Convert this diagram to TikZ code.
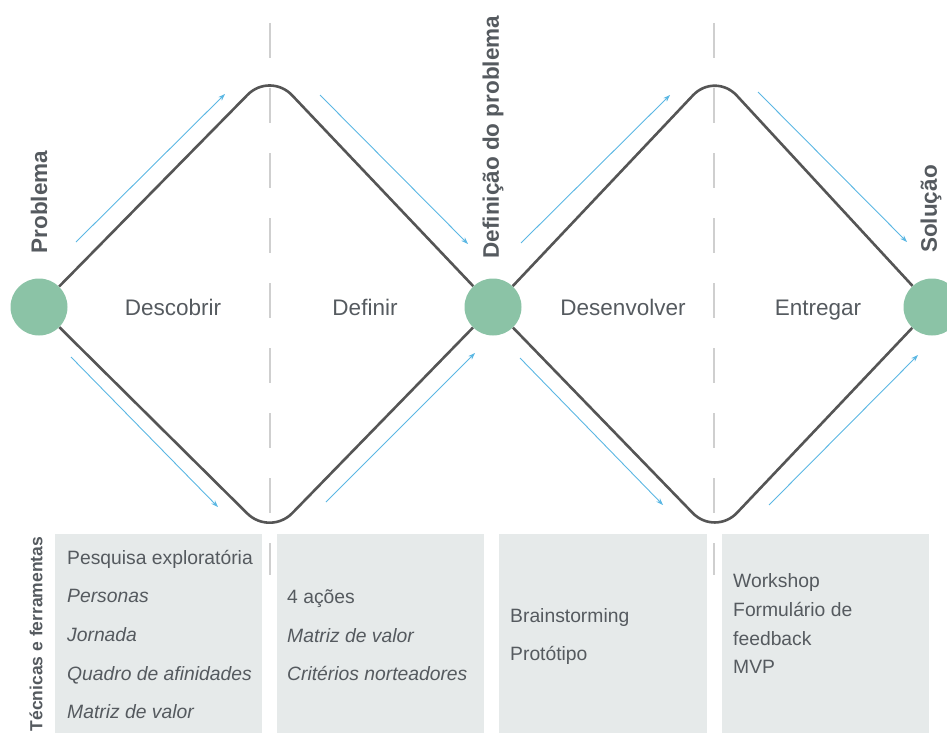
\documentclass[tikz,border=0pt]{standalone}
\usepackage{fontspec}
\setmainfont{Liberation Sans}
\usetikzlibrary{arrows.meta}

\definecolor{phasegreen}{HTML}{8BC3A6}
\definecolor{diamondgray}{HTML}{555555}
\definecolor{dashgray}{HTML}{CFCFCF}
\definecolor{flowblue}{HTML}{5BB7E3}
\definecolor{boxgray}{HTML}{E6EAEA}
\definecolor{textgray}{HTML}{555A5F}

\tikzset{
  phase/.style={circle, fill=phasegreen, minimum size=57pt, inner sep=0pt},
  diamondline/.style={line width=2.6pt, draw=diamondgray, rounded corners=32pt},
  divider/.style={line width=2pt, draw=dashgray, dash pattern=on 35pt off 30pt},
  flow/.style={line width=0.9pt, draw=flowblue, -{Stealth[length=7pt,width=5pt]}},
  stage/.style={text=textgray, anchor=base, font=\fontsize{22.5}{27}\selectfont},
  milestone/.style={text=textgray, rotate=90, inner sep=0pt, font=\bfseries\fontsize{22.5}{27}\selectfont},
  tool/.style={text=textgray, anchor=base west, inner sep=0pt, font=\fontsize{19.3}{23}\selectfont},
  itool/.style={tool, font=\itshape\fontsize{19.3}{23}\selectfont}
}

\begin{document}
\begin{tikzpicture}[x=1pt,y=-1pt]
\useasboundingbox (0,0) rectangle (947,733);

% Dashed dividers
\draw[divider] (270,23) -- (270,575);
\draw[divider] (714,23) -- (714,575);

% Corners of the two diamonds
\coordinate (top1) at (270,72);
\coordinate (bot1) at (270,536);
\coordinate (top2) at (715,72);
\coordinate (bot2) at (715,536);

% Milestones
\node[phase] (problema) at (39,307) {};
\node[phase] (definicao) at (493,307) {};
\node[phase] (solucao) at (932,307) {};

% Diamonds
\draw[diamondline] (problema) -- (top1) -- (definicao);
\draw[diamondline] (problema) -- (bot1) -- (definicao);
\draw[diamondline] (definicao) -- (top2) -- (solucao);
\draw[diamondline] (definicao) -- (bot2) -- (solucao);

% Flow arrows, first diamond
\coordinate (f1a) at (76,242);  \coordinate (f1b) at (225,94);
\coordinate (f2a) at (320,95);  \coordinate (f2b) at (468,244);
\coordinate (f3a) at (71,357);  \coordinate (f3b) at (218,507);
\coordinate (f4a) at (326,502); \coordinate (f4b) at (475,353);
\draw[flow] (f1a) -- (f1b);
\draw[flow] (f2a) -- (f2b);
\draw[flow] (f3a) -- (f3b);
\draw[flow] (f4a) -- (f4b);

% Flow arrows, second diamond
\coordinate (g1a) at (521,243); \coordinate (g1b) at (670,95);
\coordinate (g2a) at (758,92);  \coordinate (g2b) at (907,242);
\coordinate (g3a) at (520,358); \coordinate (g3b) at (663,505);
\coordinate (g4a) at (769,505); \coordinate (g4b) at (918,355);
\draw[flow] (g1a) -- (g1b);
\draw[flow] (g2a) -- (g2b);
\draw[flow] (g3a) -- (g3b);
\draw[flow] (g4a) -- (g4b);

% Stage names
\node[stage] (descobrir) at (173,315) {Descobrir};
\node[stage] (definir) at (365,315) {Definir};
\node[stage] (desenvolver) at (623,315) {Desenvolver};
\node[stage] (entregar) at (818,315) {Entregar};

% Milestone labels
\node[milestone] (lproblema) at (39,202) {Problema};
\node[milestone] (ldefinicao) at (493,137) {Definição do problema};
\node[milestone] (lsolucao) at (931,209) {Solução};
\node[milestone, font=\bfseries\fontsize{17.5}{21}\selectfont] (ltecnicas) at (36,634) {Técnicas e ferramentas};

% Tool boxes
\fill[boxgray] (55,534) rectangle (262,733);
\fill[boxgray] (277,534) rectangle (484,733);
\fill[boxgray] (499,534) rectangle (707,733);
\fill[boxgray] (722,534) rectangle (929,733);

% Box 1
\node[tool] (t11) at (67,564) {Pesquisa exploratória};
\node[itool] (t12) at (67,602) {Personas};
\node[itool] (t13) at (67,641) {Jornada};
\node[itool] (t14) at (67,680) {Quadro de afinidades};
\node[itool] (t15) at (67,718) {Matriz de valor};

% Box 2
\node[tool] (t21) at (287,603) {4 ações};
\node[itool] (t22) at (287,642) {Matriz de valor};
\node[itool] (t23) at (287,680) {Critérios norteadores};

% Box 3
\node[tool] (t31) at (510,622) {Brainstorming};
\node[tool] (t32) at (510,660) {Protótipo};

% Box 4
\node[tool] (t41) at (733,587) {Workshop};
\node[tool] (t42) at (733,616) {Formulário de};
\node[tool] (t43) at (733,645) {feedback};
\node[tool] (t44) at (733,673) {MVP};
\end{tikzpicture}
\end{document}
